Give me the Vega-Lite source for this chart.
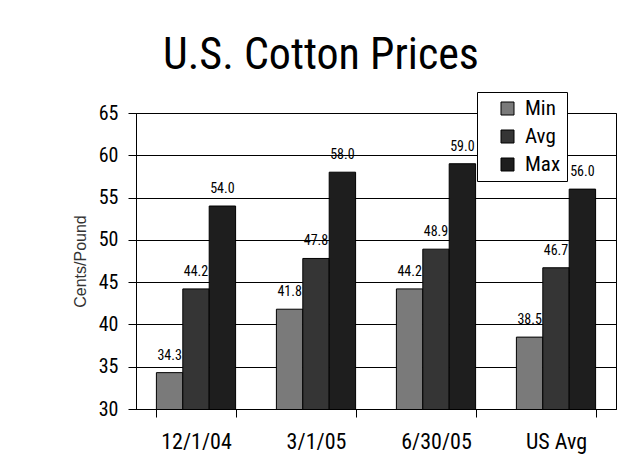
{
  "$schema": "https://vega.github.io/schema/vega-lite/v6.json",
  "width": 480,
  "height": 296,
  "autosize": {"type": "none"},
  "padding": {"left": 136, "top": 113, "right": 24, "bottom": 62},
  "background": "white",
  "title": {
    "text": "U.S. Cotton Prices",
    "font": "Roboto Condensed, Roboto, sans-serif",
    "fontSize": 44,
    "fontWeight": "normal",
    "color": "black",
    "anchor": "middle",
    "dx": -55,
    "offset": 14
  },
  "data": {
    "values": [
      {"date": "12/1/04", "series": "Min", "value": 34.3},
      {"date": "12/1/04", "series": "Avg", "value": 44.2},
      {"date": "12/1/04", "series": "Max", "value": 54.0},
      {"date": "3/1/05", "series": "Min", "value": 41.8},
      {"date": "3/1/05", "series": "Avg", "value": 47.8},
      {"date": "3/1/05", "series": "Max", "value": 58.0},
      {"date": "6/30/05", "series": "Min", "value": 44.2},
      {"date": "6/30/05", "series": "Avg", "value": 48.9},
      {"date": "6/30/05", "series": "Max", "value": 59.0},
      {"date": "US Avg", "series": "Min", "value": 38.5},
      {"date": "US Avg", "series": "Avg", "value": 46.7},
      {"date": "US Avg", "series": "Max", "value": 56.0}
    ]
  },
  "encoding": {
    "x": {
      "field": "date",
      "type": "nominal",
      "sort": ["12/1/04", "3/1/05", "6/30/05", "US Avg"],
      "scale": {"paddingInner": 0.34, "paddingOuter": 0.17},
      "axis": {
        "title": null,
        "labelAngle": 0,
        "labelFont": "Roboto Condensed, Roboto, sans-serif",
        "labelFontSize": 22,
        "labelColor": "black",
        "labelPadding": 14,
        "tickBand": "extent",
        "tickSize": 8,
        "tickColor": "black",
        "domainColor": "black",
        "grid": false
      }
    },
    "xOffset": {"field": "series", "type": "nominal", "sort": ["Min", "Avg", "Max"]},
    "y": {
      "field": "value",
      "type": "quantitative",
      "scale": {"domain": [30, 65], "zero": false, "nice": false},
      "axis": {
        "values": [30, 35, 40, 45, 50, 55, 60, 65],
        "grid": true,
        "gridColor": "black",
        "gridOpacity": 1,
        "gridWidth": 1,
        "domainColor": "black",
        "tickColor": "black",
        "tickSize": 8,
        "labelPadding": 10,
        "labelFont": "Roboto Condensed, Roboto, sans-serif",
        "labelFontSize": 20,
        "labelColor": "black",
        "title": "Cents/Pound",
        "titleFont": "Liberation Sans, Arial, sans-serif",
        "titleFontSize": 16,
        "titleFontWeight": "normal",
        "titleColor": "#333333",
        "titlePadding": 10
      }
    }
  },
  "layer": [
    {
      "mark": {"type": "bar", "stroke": "black", "strokeWidth": 1, "clip": true},
      "encoding": {
        "color": {
          "field": "series",
          "type": "nominal",
          "sort": ["Min", "Avg", "Max"],
          "scale": {"domain": ["Min", "Avg", "Max"], "range": ["#7a7a7a", "#353535", "#1e1e1e"]},
          "legend": {
            "title": null,
            "orient": "none",
            "legendX": 341,
            "legendY": -21,
            "strokeColor": "black",
            "fillColor": "white",
            "padding": 6,
            "symbolOffset": 14,
            "symbolType": "square",
            "symbolSize": 169,
            "symbolStrokeColor": "black",
            "symbolStrokeWidth": 1,
            "symbolOpacity": 1,
            "labelFont": "Roboto Condensed, Roboto, sans-serif",
            "labelFontSize": 21,
            "labelColor": "black",
            "labelOffset": 7,
            "rowPadding": 6
          }
        }
      }
    },
    {
      "mark": {
        "type": "text",
        "baseline": "bottom",
        "dy": -10,
        "font": "Roboto Condensed, Roboto, sans-serif",
        "fontSize": 14,
        "color": "black"
      },
      "encoding": {
        "text": {"field": "value", "type": "quantitative", "format": ".1f"}
      }
    }
  ],
  "config": {
    "view": {"stroke": "black", "strokeWidth": 1}
  }
}
